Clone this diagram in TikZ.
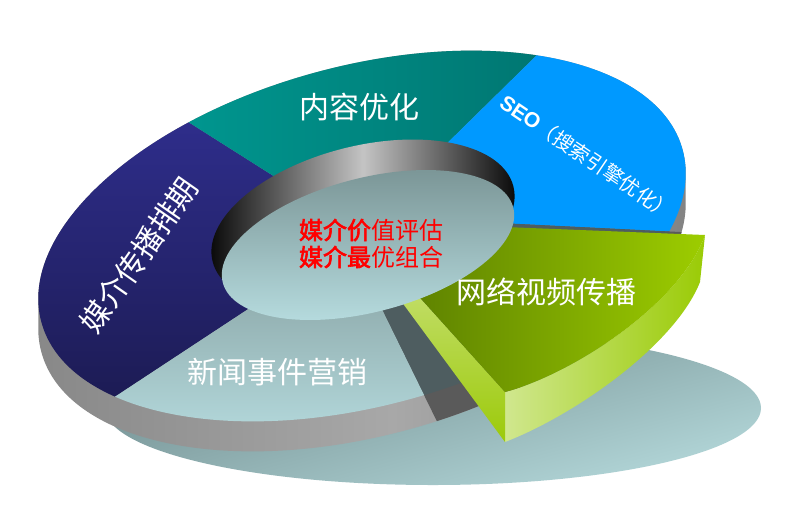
\documentclass[tikz,border=0pt]{standalone}
\usepackage{fontspec}
\setsansfont{Liberation Sans}
\newfontfamily\cjk{Noto Sans CJK SC}
\newfontfamily\cjkb{Noto Sans CJK SC}[FakeBold=2.5]
\usetikzlibrary{calc}
\definecolor{navyTop}{HTML}{2F2E8D}
\definecolor{navyBot}{HTML}{1B1A50}
\definecolor{tealL}{HTML}{00968F}
\definecolor{tealR}{HTML}{007570}
\definecolor{seoBlue}{HTML}{0099FF}
\definecolor{newsTop}{HTML}{8EAAAB}
\definecolor{newsBot}{HTML}{B2D7DA}
\definecolor{slate}{HTML}{4E5D60}
\definecolor{cutGray}{HTML}{5A5A5A}
\definecolor{sideL}{HTML}{878787}
\definecolor{sideM}{HTML}{A8A8A8}
\definecolor{sideR}{HTML}{7A7A7A}
\definecolor{rimMid}{HTML}{C4C4C4}
\definecolor{discTop}{HTML}{7C9798}
\definecolor{discBot}{HTML}{B9DFE2}
\definecolor{shTop}{HTML}{6C8789}
\definecolor{shBot}{HTML}{B3D7D9}
\definecolor{gTopL}{HTML}{587B00}
\definecolor{gTopR}{HTML}{9DCD00}
\definecolor{gSideL}{HTML}{D0E78E}
\definecolor{gSideR}{HTML}{9ACB05}
\definecolor{gLeftT}{HTML}{C9E17A}
\definecolor{gLeftB}{HTML}{9CCA0A}
\definecolor{redTxt}{HTML}{FF0000}
\tikzset{
  ellouter/.style={x radius=332, y radius=170, rotate=15},
  lbl/.style={text=white, inner sep=0pt, font=\cjk\fontsize{30}{30}\selectfont},
  redlbl/.style={text=redTxt, inner sep=0pt, align=center, font=\cjk\fontsize{24}{27}\selectfont},
  seolbl/.style={text=white, inner sep=0pt}
}
\begin{document}
\begin{tikzpicture}[x=1pt,y=-1pt]
\useasboundingbox (0,0) rectangle (800,523);
\fill[white] (0,0) rectangle (800,523);

% shadow
\shade[top color=shTop, bottom color=shBot, shading angle=15] (433,408) ellipse [x radius=328, y radius=77];

% key points
\coordinate (C) at (362,236);
\coordinate (I1) at (302,194); \coordinate (O1) at (193,125);
\coordinate (I2) at (428,162); \coordinate (O2) at (540,52);
\coordinate (I3) at (480,222); \coordinate (O3) at (700,233);
\coordinate (I4) at (371,287); \coordinate (O4) at (425,397);
\coordinate (I5) at (265,298); \coordinate (O5) at (110,400);
\coordinate (F1) at ($(I1)!5!(O1)$);
\coordinate (F2) at ($(I2)!5!(O2)$);
\coordinate (F3) at ($(I3)!5!(O3)$);
\coordinate (F4) at ($(I4)!5!(O4)$);
\coordinate (F5) at ($(I5)!5!(O5)$);

% ring side band
\begin{scope}
  \clip \foreach \d in {0,3,...,30} {(362,236+\d) ellipse [ellouter]};
  \shade[left color=sideL, right color=sideR, middle color=sideM] (25,40) rectangle (760,480);
\end{scope}
% cut face under the removed piece
\begin{scope}
  \clip (C) -- (I3) -- (F3) -- (F4) -- (I4) -- cycle;
  \fill[cutGray] \foreach \d in {0,3,...,30} {(362,236+\d) ellipse [ellouter]};
\end{scope}

% top face segments
\begin{scope}
  \clip (C) -- (I5) -- (F5) -- (F1) -- (I1) -- cycle;
  \clip (362,236) ellipse [ellouter];
  \shade[top color=navyTop, bottom color=navyBot] (25,110) rectangle (320,420);
\end{scope}
\begin{scope}
  \clip (C) -- (I1) -- (F1) -- (F2) -- (I2) -- cycle;
  \clip (362,236) ellipse [ellouter];
  \shade[left color=tealL, right color=tealR] (185,40) rectangle (560,245);
\end{scope}
\begin{scope}
  \clip (C) -- (I2) -- (F2) -- (F3) -- (I3) -- cycle;
  \fill[seoBlue] (362,236) ellipse [ellouter];
\end{scope}
\begin{scope}
  \clip (C) -- (I3) -- (F3) -- (F4) -- (I4) -- cycle;
  \fill[slate] (362,236) ellipse [ellouter];
\end{scope}
\begin{scope}
  \clip (C) -- (I4) -- (F4) -- (F5) -- (I5) -- cycle;
  \clip (362,236) ellipse [ellouter];
  \shade[top color=newsTop, bottom color=newsBot] (90,285) rectangle (450,430);
\end{scope}

% exploded green piece
\coordinate (GTL) at (386,260);
\coordinate (GF) at (505,392);
\coordinate (GFB) at (505,442);
\coordinate (GBL) at (376,267);
\coordinate (GR) at (705,235);
\coordinate (GRB) at (700,282);
\coordinate (GTI) at (430,224);
\shade[left color=gSideL, right color=gSideR]
  (GF) .. controls (570,375) and (680,305) .. (GR) -- (GRB)
  .. controls (675,345) and (575,415) .. (GFB) -- cycle;
\shade[top color=gLeftT, bottom color=gLeftB] (GTL) -- (GF) -- (GFB) -- (GBL) -- cycle;
\shade[left color=gTopL, right color=gTopR]
  (GTL) -- (GF) .. controls (570,375) and (680,305) .. (GR) -- (GTI) -- cycle;

% hole: rim and floor
\shade[left color=black, right color=black, middle color=rimMid] (363,224) ellipse [x radius=155, y radius=78, rotate=14];
\shade[top color=discTop, bottom color=discBot] (368,245) ellipse [x radius=150, y radius=67, rotate=14.5];

% labels
\node[lbl] (tContent) at (359,107) {内容优化};
\node[lbl] (tNews) at (277,372) {新闻事件营销};
\node[lbl] (tVideo) at (546,292) {网络视频传播};
\node[lbl, rotate=55] (tMedia) at (139,255) {媒介传播排期};
\node[seolbl, rotate=-34] (tSEO) at (587,157) {{\sffamily\bfseries\fontsize{21}{21}\selectfont SEO}{\cjk\fontsize{20}{20}\selectfont （搜索引擎优化）}};
\node[redlbl] (tCenter) at (371,243.5) {{\cjkb 媒介价}值评估\\{\cjkb 媒介最}优组合};
\end{tikzpicture}
\end{document}
